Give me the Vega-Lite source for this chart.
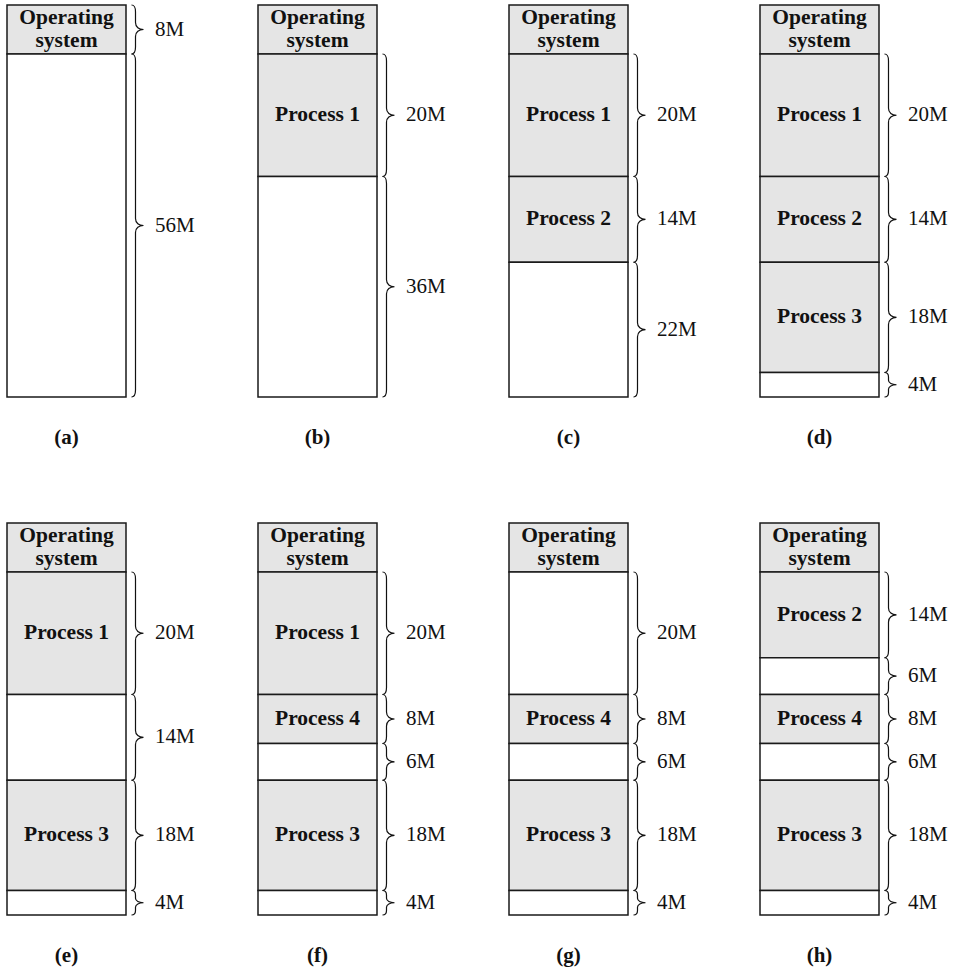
{
  "$schema": "https://vega.github.io/schema/vega-lite/v6.json",
  "padding": {"left": 6, "top": 2, "right": 0, "bottom": 0},
  "bounds": "flush",
  "config": {"view": {"stroke": null}},
  "data": {"values": [
    {"p":"(a)","o":1,"seg":"Operating\nsystem","kind":"used","start":0,"end":8,"mb":8,"sz":"8M"},
    {"p":"(a)","o":2,"seg":"","kind":"free","start":8,"end":64,"mb":56,"sz":"56M"},
    {"p":"(b)","o":1,"seg":"Operating\nsystem","kind":"used","start":0,"end":8,"mb":8,"sz":""},
    {"p":"(b)","o":2,"seg":"Process 1","kind":"used","start":8,"end":28,"mb":20,"sz":"20M"},
    {"p":"(b)","o":3,"seg":"","kind":"free","start":28,"end":64,"mb":36,"sz":"36M"},
    {"p":"(c)","o":1,"seg":"Operating\nsystem","kind":"used","start":0,"end":8,"mb":8,"sz":""},
    {"p":"(c)","o":2,"seg":"Process 1","kind":"used","start":8,"end":28,"mb":20,"sz":"20M"},
    {"p":"(c)","o":3,"seg":"Process 2","kind":"used","start":28,"end":42,"mb":14,"sz":"14M"},
    {"p":"(c)","o":4,"seg":"","kind":"free","start":42,"end":64,"mb":22,"sz":"22M"},
    {"p":"(d)","o":1,"seg":"Operating\nsystem","kind":"used","start":0,"end":8,"mb":8,"sz":""},
    {"p":"(d)","o":2,"seg":"Process 1","kind":"used","start":8,"end":28,"mb":20,"sz":"20M"},
    {"p":"(d)","o":3,"seg":"Process 2","kind":"used","start":28,"end":42,"mb":14,"sz":"14M"},
    {"p":"(d)","o":4,"seg":"Process 3","kind":"used","start":42,"end":60,"mb":18,"sz":"18M"},
    {"p":"(d)","o":5,"seg":"","kind":"free","start":60,"end":64,"mb":4,"sz":"4M"},
    {"p":"(e)","o":1,"seg":"Operating\nsystem","kind":"used","start":0,"end":8,"mb":8,"sz":""},
    {"p":"(e)","o":2,"seg":"Process 1","kind":"used","start":8,"end":28,"mb":20,"sz":"20M"},
    {"p":"(e)","o":3,"seg":"","kind":"free","start":28,"end":42,"mb":14,"sz":"14M"},
    {"p":"(e)","o":4,"seg":"Process 3","kind":"used","start":42,"end":60,"mb":18,"sz":"18M"},
    {"p":"(e)","o":5,"seg":"","kind":"free","start":60,"end":64,"mb":4,"sz":"4M"},
    {"p":"(f)","o":1,"seg":"Operating\nsystem","kind":"used","start":0,"end":8,"mb":8,"sz":""},
    {"p":"(f)","o":2,"seg":"Process 1","kind":"used","start":8,"end":28,"mb":20,"sz":"20M"},
    {"p":"(f)","o":3,"seg":"Process 4","kind":"used","start":28,"end":36,"mb":8,"sz":"8M"},
    {"p":"(f)","o":4,"seg":"","kind":"free","start":36,"end":42,"mb":6,"sz":"6M"},
    {"p":"(f)","o":5,"seg":"Process 3","kind":"used","start":42,"end":60,"mb":18,"sz":"18M"},
    {"p":"(f)","o":6,"seg":"","kind":"free","start":60,"end":64,"mb":4,"sz":"4M"},
    {"p":"(g)","o":1,"seg":"Operating\nsystem","kind":"used","start":0,"end":8,"mb":8,"sz":""},
    {"p":"(g)","o":2,"seg":"","kind":"free","start":8,"end":28,"mb":20,"sz":"20M"},
    {"p":"(g)","o":3,"seg":"Process 4","kind":"used","start":28,"end":36,"mb":8,"sz":"8M"},
    {"p":"(g)","o":4,"seg":"","kind":"free","start":36,"end":42,"mb":6,"sz":"6M"},
    {"p":"(g)","o":5,"seg":"Process 3","kind":"used","start":42,"end":60,"mb":18,"sz":"18M"},
    {"p":"(g)","o":6,"seg":"","kind":"free","start":60,"end":64,"mb":4,"sz":"4M"},
    {"p":"(h)","o":1,"seg":"Operating\nsystem","kind":"used","start":0,"end":8,"mb":8,"sz":""},
    {"p":"(h)","o":2,"seg":"Process 2","kind":"used","start":8,"end":22,"mb":14,"sz":"14M"},
    {"p":"(h)","o":3,"seg":"","kind":"free","start":22,"end":28,"mb":6,"sz":"6M"},
    {"p":"(h)","o":4,"seg":"Process 4","kind":"used","start":28,"end":36,"mb":8,"sz":"8M"},
    {"p":"(h)","o":5,"seg":"","kind":"free","start":36,"end":42,"mb":6,"sz":"6M"},
    {"p":"(h)","o":6,"seg":"Process 3","kind":"used","start":42,"end":60,"mb":18,"sz":"18M"},
    {"p":"(h)","o":7,"seg":"","kind":"free","start":60,"end":64,"mb":4,"sz":"4M"}
  ]},
  "facet": {
    "field": "p", "type": "nominal", "title": null,
    "header": {"title": null, "labelOrient": "bottom", "labelPadding": 28, "labelFont": "Liberation Serif", "labelFontSize": 21, "labelFontWeight": "bold", "labelColor": "#111"}
  },
  "columns": 4,
  "spacing": {"row": 126, "column": 132},
  "spec": {
    "width": 119,
    "height": 392,
    "layer": [
      {
        "mark": {"type": "rect", "stroke": "#1a1a1a", "strokeWidth": 1.5},
        "encoding": {
          "y": {"field": "start", "type": "quantitative", "scale": {"domain": [0, 64], "reverse": true, "nice": false, "zero": false}, "axis": null},
          "y2": {"field": "end"},
          "fill": {"field": "kind", "type": "nominal", "scale": {"domain": ["used", "free"], "range": ["#e5e5e5", "#ffffff"]}, "legend": null}
        }
      },
      {
        "mark": {"type": "text", "font": "Liberation Serif", "fontSize": 21.5, "fontWeight": "bold", "lineBreak": "\n", "lineHeight": 23, "baseline": "middle", "align": "center", "dy": {"expr": "datum.o == 1 ? -11.5 : 0"}, "color": "#111"},
        "encoding": {
          "y": {"field": "mb", "type": "quantitative", "stack": "zero", "bandPosition": 0.5},
          "order": {"field": "o", "type": "quantitative"},
          "text": {"field": "seg"}
        }
      },
      {
        "mark": {"type": "point", "filled": false, "stroke": "#111", "strokeWidth": 1.2, "size": 4, "xOffset": 69, "opacity": 1},
        "encoding": {
          "y": {"field": "mb", "type": "quantitative", "stack": "zero", "bandPosition": 0.5},
          "order": {"field": "o", "type": "quantitative"},
          "shape": {"field": "sz", "type": "nominal", "legend": null, "scale": {
            "domain": ["", "4M", "6M", "8M", "14M", "18M", "20M", "22M", "36M", "56M"],
            "range": [
              "M0,0",
              "M-4,-12.25C-1.3,-12.25 0,-10.75 0,-7.75L0,-4.5C0,-1.6 3.5,0 8,0C3.5,0 0,1.6 0,4.5L0,7.75C0,10.75 -1.3,12.25 -4,12.25",
              "M-4,-18.375C-1.3,-18.375 0,-16.875 0,-12.375L0,-6C0,-2.1 3.5,0 8,0C3.5,0 0,2.1 0,6L0,12.375C0,16.875 -1.3,18.375 -4,18.375",
              "M-4,-24.5C-1.3,-24.5 0,-23 0,-17.5L0,-7C0,-2.45 3.5,0 8,0C3.5,0 0,2.45 0,7L0,17.5C0,23 -1.3,24.5 -4,24.5",
              "M-4,-42.875C-1.3,-42.875 0,-41.375 0,-35.875L0,-7C0,-2.45 3.5,0 8,0C3.5,0 0,2.45 0,7L0,35.875C0,41.375 -1.3,42.875 -4,42.875",
              "M-4,-55.125C-1.3,-55.125 0,-53.625 0,-48.125L0,-7C0,-2.45 3.5,0 8,0C3.5,0 0,2.45 0,7L0,48.125C0,53.625 -1.3,55.125 -4,55.125",
              "M-4,-61.25C-1.3,-61.25 0,-59.75 0,-54.25L0,-7C0,-2.45 3.5,0 8,0C3.5,0 0,2.45 0,7L0,54.25C0,59.75 -1.3,61.25 -4,61.25",
              "M-4,-67.375C-1.3,-67.375 0,-65.875 0,-60.375L0,-7C0,-2.45 3.5,0 8,0C3.5,0 0,2.45 0,7L0,60.375C0,65.875 -1.3,67.375 -4,67.375",
              "M-4,-110.25C-1.3,-110.25 0,-108.75 0,-103.25L0,-7C0,-2.45 3.5,0 8,0C3.5,0 0,2.45 0,7L0,103.25C0,108.75 -1.3,110.25 -4,110.25",
              "M-4,-171.5C-1.3,-171.5 0,-170 0,-164.5L0,-7C0,-2.45 3.5,0 8,0C3.5,0 0,2.45 0,7L0,164.5C0,170 -1.3,171.5 -4,171.5"
            ]
          }}
        }
      },
      {
        "mark": {"type": "text", "font": "Liberation Serif", "fontSize": 21, "baseline": "middle", "align": "left", "dx": 88.5, "color": "#111"},
        "encoding": {
          "y": {"field": "mb", "type": "quantitative", "stack": "zero", "bandPosition": 0.5},
          "order": {"field": "o", "type": "quantitative"},
          "text": {"field": "sz"}
        }
      }
    ]
  }
}
